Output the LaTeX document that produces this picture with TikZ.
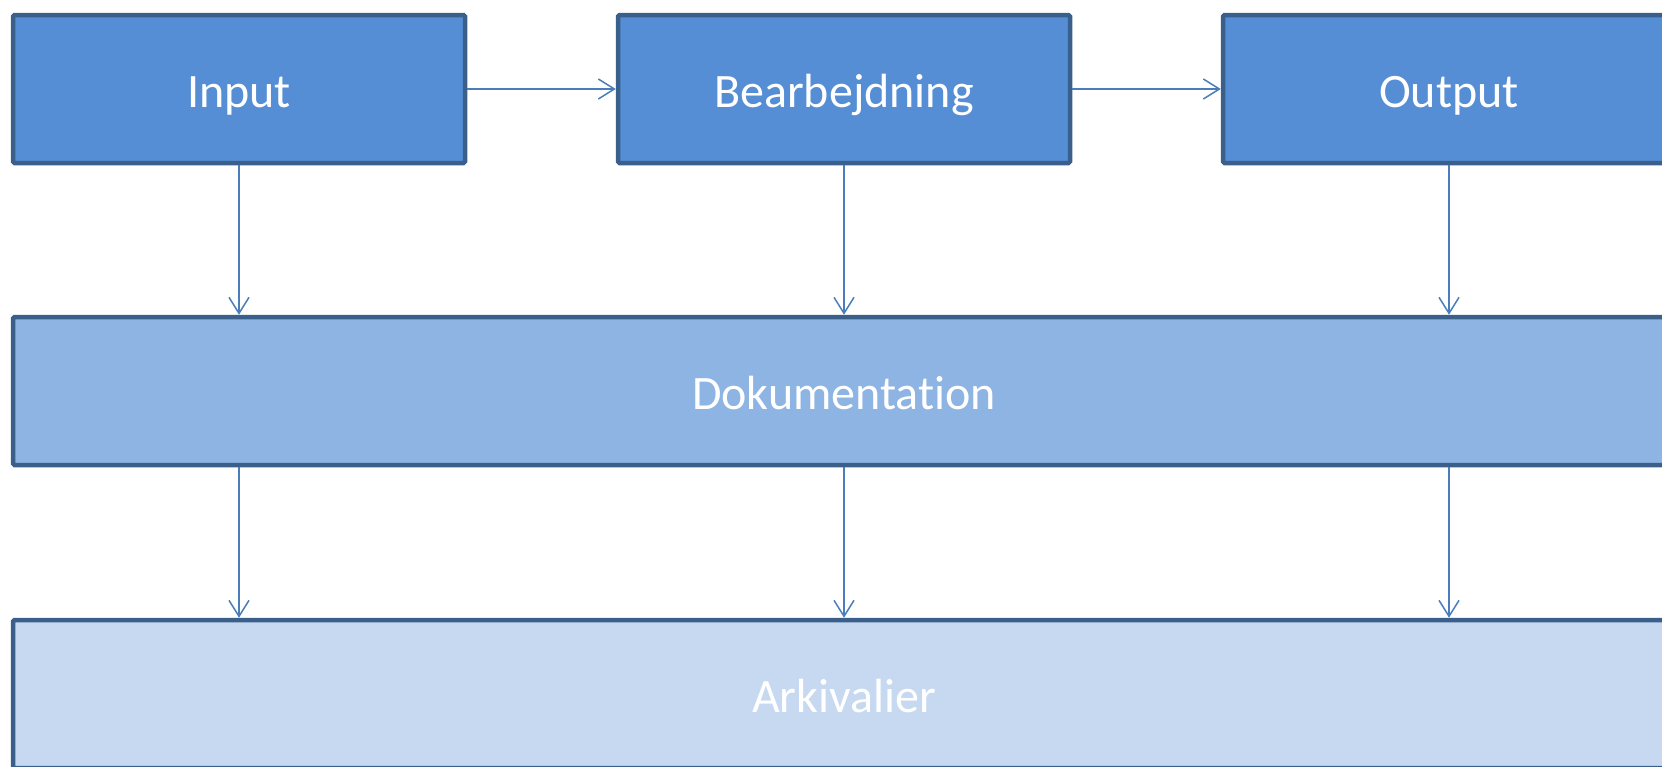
\documentclass[tikz,border=0pt]{standalone}
\usepackage{fontspec}
\setmainfont[Ligatures=NoCommon]{Carlito}
\usetikzlibrary{arrows.meta}
\definecolor{boxdark}{HTML}{558ED5}
\definecolor{boxmid}{HTML}{8EB4E3}
\definecolor{boxlight}{HTML}{C6D9F1}
\definecolor{edge}{HTML}{3A5F8B}
\definecolor{conn}{HTML}{4A7EBB}
\begin{document}
\begin{tikzpicture}[x=1pt,y=-1pt,
  box/.style={draw=edge, line width=4.5pt, rounded corners=1.5pt, inner sep=0pt,
    minimum height=148pt, text height=37pt, text depth=0pt,
    text=white, font=\fontsize{48}{58}\selectfont},
  small/.style={box, fill=boxdark, minimum width=452pt},
  wide/.style={box, minimum width=1662pt},
  conn/.style={draw=conn, line width=1.5pt, -{Straight Barb[length=16pt,width=20pt,line width=1.5pt]}}
]
\useasboundingbox (0,0) rectangle (1662,766);
\clip (0,0) rectangle (1662,766);
\node[small] (in) at (239,89) {Input};
\node[small] (bea) at (844,89) {Bearbejdning};
\node[small] (out) at (1449,89) {Output};
\node[wide, fill=boxmid] (dok) at (844,391) {Dokumentation};
\node[wide, fill=boxlight] (ark) at (844,694) {Arkivalier};
\draw[conn] (in) -- (bea);
\draw[conn] (bea) -- (out);
\foreach \n in {in,bea,out}{
  \draw[conn] (\n.south) -- (\n.south |- dok.north);
  \draw[conn] (\n.south |- dok.south) -- (\n.south |- ark.north);
}
\end{tikzpicture}
\end{document}
